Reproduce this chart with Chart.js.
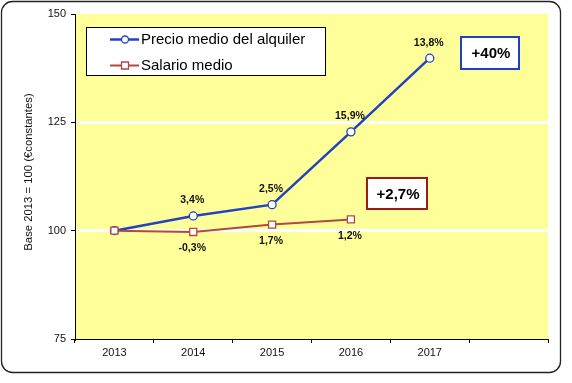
<!DOCTYPE html>
<html>
<head>
<meta charset="utf-8">
<script src="https://cdn.jsdelivr.net/npm/chart.js@4.4.1/dist/chart.umd.min.js"></script>
<style>
  html, body { margin: 0; padding: 0; background: #fff; }
  #wrap { width: 572px; height: 383px; }
</style>
</head>
<body>
<div id="wrap"><canvas id="c" width="572" height="383"></canvas></div>
<script>
// ---- data ----
const years = ['2013', '2014', '2015', '2016', '2017', ''];
const precioValues = [100, 103.4, 106.0, 122.8, 139.8];
const salarioValues = [100, 99.7, 101.4, 102.6];
const precioLabels = ['', '3,4%', '2,5%', '15,9%', '13,8%'];
const salarioLabels = ['', '-0,3%', '1,7%', '1,2%'];
const yTicks = [75, 100, 125, 150];
const seriesNames = ['Precio medio del alquiler', 'Salario medio'];
const boxTexts = ['+40%', '+2,7%'];
const yTitle = 'Base 2013 = 100 (€constantes)';

const FONT = "'Liberation Sans', Arial, sans-serif";
const BLUE = '#2242c2';
const RED = '#b04846';

const decorPlugin = {
  id: 'decor',
  beforeDraw(chart) {
    const ctx = chart.ctx;
    const a = chart.chartArea;
    ctx.save();
    ctx.fillStyle = '#fff';
    ctx.fillRect(0, 0, chart.width, chart.height);
    // outer rounded frame
    ctx.beginPath();
    ctx.roundRect(1.5, 1.5, 559, 371, 11);
    ctx.lineWidth = 1.3;
    ctx.strokeStyle = '#222';
    ctx.stroke();
    // plot background
    ctx.fillStyle = '#ffff99';
    ctx.fillRect(a.left, a.top, a.right - a.left, a.bottom - a.top);
    ctx.restore();
  },
  afterDraw(chart) {
    // y axis title
    const ctx = chart.ctx;
    ctx.save();
    ctx.translate(28.5, 172);
    ctx.rotate(-Math.PI / 2);
    ctx.font = '11.3px ' + FONT;
    ctx.fillStyle = '#111';
    ctx.textAlign = 'center';
    ctx.textBaseline = 'middle';
    ctx.fillText(yTitle, 0, 0);
    ctx.restore();
  },
  afterDatasetsDraw(chart) {
    const ctx = chart.ctx;
    ctx.save();
    // data labels
    ctx.font = 'bold 10.5px ' + FONT;
    ctx.fillStyle = '#111';
    ctx.textAlign = 'center';
    ctx.textBaseline = 'middle';
    const m0 = chart.getDatasetMeta(0).data;
    precioLabels.forEach((t, i) => {
      if (!t || !m0[i]) return;
      ctx.fillText(t, m0[i].x - 1, m0[i].y - 15.5);
    });
    const m1 = chart.getDatasetMeta(1).data;
    salarioLabels.forEach((t, i) => {
      if (!t || !m1[i]) return;
      ctx.fillText(t, m1[i].x - 1, m1[i].y + 16.5);
    });

    // legend box
    ctx.fillStyle = '#fff';
    ctx.fillRect(86.5, 27.5, 239, 48);
    ctx.lineWidth = 1;
    ctx.strokeStyle = '#000';
    ctx.strokeRect(86.5, 27.5, 239, 48);
    const entries = [
      { y: 39.5, color: BLUE, style: 'circle', lw: 2.5 },
      { y: 65.5, color: RED, style: 'rect', lw: 2 }
    ];
    entries.forEach((e, i) => {
      ctx.beginPath();
      ctx.moveTo(110, e.y);
      ctx.lineTo(139, e.y);
      ctx.strokeStyle = e.color;
      ctx.lineWidth = e.lw;
      ctx.stroke();
      ctx.beginPath();
      if (e.style === 'circle') ctx.arc(125, e.y, 3.5, 0, Math.PI * 2);
      else ctx.rect(121.5, e.y - 3.5, 7, 7);
      ctx.fillStyle = '#fff';
      ctx.fill();
      ctx.lineWidth = 1.3;
      ctx.stroke();
      ctx.fillStyle = '#000';
      ctx.font = '15px ' + FONT;
      ctx.textAlign = 'left';
      ctx.textBaseline = 'middle';
      ctx.fillText(seriesNames[i], 141, e.y + 0.5);
    });

    // annotation boxes
    const boxes = [
      { x: 461, y: 37, w: 58, h: 32, color: '#1f3fc6', text: boxTexts[0] },
      { x: 367, y: 178, w: 60, h: 31, color: '#a01818', text: boxTexts[1] }
    ];
    boxes.forEach(b => {
      ctx.fillStyle = '#fff';
      ctx.fillRect(b.x, b.y, b.w, b.h);
      ctx.strokeStyle = b.color;
      ctx.lineWidth = 2;
      ctx.strokeRect(b.x, b.y, b.w, b.h);
      ctx.fillStyle = '#000';
      ctx.font = 'bold 15px ' + FONT;
      ctx.textAlign = 'center';
      ctx.textBaseline = 'middle';
      ctx.fillText(b.text, b.x + b.w / 2 + 1, b.y + b.h / 2 + 1);
    });
    ctx.restore();
  }
};

new Chart(document.getElementById('c'), {
  type: 'line',
  data: {
    labels: years,
    datasets: [
      {
        label: seriesNames[0],
        data: precioValues,
        borderColor: BLUE,
        borderWidth: 2.5,
        pointStyle: 'circle',
        pointRadius: 4,
        pointBackgroundColor: '#fff',
        pointBorderColor: BLUE,
        pointBorderWidth: 1.3,
        tension: 0,
        order: 2
      },
      {
        label: seriesNames[1],
        data: salarioValues,
        borderColor: RED,
        borderWidth: 2,
        pointStyle: 'rect',
        pointRadius: 5,
        pointBackgroundColor: '#fff',
        pointBorderColor: RED,
        pointBorderWidth: 1.3,
        tension: 0,
        order: 1
      }
    ]
  },
  options: {
    responsive: false,
    animation: false,
    events: [],
    layout: { padding: { left: 0, right: 24, top: 14, bottom: 0 } },
    plugins: {
      legend: { display: false },
      tooltip: { enabled: false }
    },
    scales: {
      x: {
        type: 'category',
        offset: true,
        grid: {
          display: true,
          offset: true,
          drawOnChartArea: false,
          color: '#000',
          tickColor: '#000',
          tickLength: 4,
          tickWidth: 1
        },
        border: { display: true, color: '#000', width: 1 },
        ticks: {
          color: '#111',
          font: { family: FONT, size: 11 },
          padding: 3,
          maxRotation: 0,
          autoSkip: false
        },
        afterFit(scale) { scale.height = 44; }
      },
      y: {
        min: yTicks[0],
        max: yTicks[yTicks.length - 1],
        afterBuildTicks(scale) { scale.ticks = yTicks.map(v => ({ value: v })); },
        grid: {
          color: (c) => (c.tick && (c.tick.value === 100 || c.tick.value === 125)) ? '#ffffff' : 'rgba(0,0,0,0)',
          lineWidth: 3,
          tickColor: '#000',
          tickLength: 4,
          tickWidth: 1
        },
        border: { display: true, color: '#000', width: 1 },
        ticks: {
          color: '#111',
          font: { family: FONT, size: 11 },
          padding: 5
        },
        title: { display: false, text: yTitle },
        afterFit(scale) { scale.width = 75; }
      }
    }
  },
  plugins: [decorPlugin]
});
</script>
</body>
</html>
